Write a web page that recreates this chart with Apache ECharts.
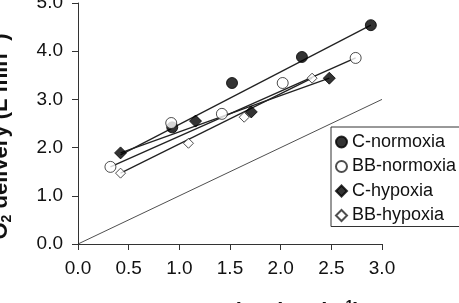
<!DOCTYPE html>
<html>
<head>
<meta charset="utf-8">
<script src="https://cdn.jsdelivr.net/npm/echarts@6/dist/echarts.min.js"></script>
<style>
  html, body { margin: 0; padding: 0; background: #fff; }
  #chart { width: 459px; height: 303px; }
</style>
</head>
<body>
<div id="chart"></div>
<script>
// values
let xTicks = [0, 0.5, 1, 1.5, 2, 2.5, 3]
let yTicks = [0, 1, 2, 3, 4, 5]

let cNormoxia = [[0.93, 2.42], [1.52, 3.34], [2.21, 3.88], [2.89, 4.54]]
let bbNormoxia = [[0.32, 1.60], [0.92, 2.51], [1.42, 2.70], [2.02, 3.34], [2.74, 3.86]]
let cHypoxia = [[0.42, 1.89], [1.16, 2.55], [1.71, 2.74], [2.48, 3.44]]
let bbHypoxia = [[0.42, 1.47], [1.09, 2.09], [1.64, 2.63], [2.31, 3.44]]

// trend lines (end points)
let cNormoxiaFit = [[0.42, 1.85], [2.89, 4.54]]
let bbNormoxiaFit = [[0.32, 1.60], [2.74, 3.86]]
let cHypoxiaFit = [[0.42, 1.89], [2.48, 3.44]]
let bbHypoxiaFit = [[0.42, 1.47], [2.31, 3.44]]
let identityLine = [[0, 0], [3, 3]]

let names = ['C-normoxia', 'BB-normoxia', 'C-hypoxia', 'BB-hypoxia']

let chart = echarts.init(document.getElementById('chart'))

let font = 'Liberation Sans, Arial, sans-serif'
let axisRich = {
  b: { fontSize: 22, fontWeight: 'bold', fontFamily: font, color: '#111', lineHeight: 26 },
  sub: { fontSize: 14, fontWeight: 'bold', fontFamily: font, color: '#111', verticalAlign: 'bottom', lineHeight: 14 },
  sup: { fontSize: 14, fontWeight: 'bold', fontFamily: font, color: '#111', verticalAlign: 'top', lineHeight: 14 }
}

function fitLine (data, width) {
  return {
    type: 'line',
    data: data,
    symbol: 'none',
    silent: true,
    z: 2,
    lineStyle: { color: '#222', width: width }
  }
}

function marker (name, data, symbol, filled, size) {
  return {
    name: name,
    type: 'scatter',
    data: data,
    symbol: symbol,
    symbolSize: size,
    z: 5,
    itemStyle: filled
      ? { color: '#000', borderColor: '#000', borderWidth: 1 }
      : { color: '#fff', borderColor: '#222', borderWidth: 1 }
  }
}

let option = {
  animation: false,
  grid: { left: 78, right: 77, top: 3, bottom: 59, containLabel: false, outerBoundsMode: 'none' },
  legend: {
    data: names,
    orient: 'vertical',
    left: 331,
    top: 127,
    padding: [5, 4, 1, 4],
    itemGap: 4.5,
    itemWidth: 11,
    itemHeight: 11,
    borderColor: '#333',
    borderWidth: 1,
    backgroundColor: '#fff',
    textStyle: { fontSize: 18, fontFamily: font, color: '#111', lineHeight: 20 }
  },
  xAxis: {
    type: 'value',
    min: xTicks[0],
    max: xTicks[xTicks.length - 1],
    interval: 0.5,
    splitLine: { show: false },
    axisLine: { lineStyle: { color: '#333', width: 1 } },
    axisTick: { length: 6, lineStyle: { color: '#333' } },
    axisLabel: {
      margin: 15,
      fontSize: 19,
      fontFamily: font,
      color: '#111',
      formatter: v => v.toFixed(1)
    },
    name: '{b|O}{sub|2}{b| consumption (L min}{sup|-1}{b|)}',
    nameLocation: 'middle',
    nameGap: 55,
    nameTextStyle: { rich: axisRich }
  },
  yAxis: {
    type: 'value',
    min: yTicks[0],
    max: yTicks[yTicks.length - 1],
    interval: 1,
    splitLine: { show: false },
    axisLine: { show: true, lineStyle: { color: '#333', width: 1 } },
    axisTick: { show: true, length: 6, lineStyle: { color: '#333' } },
    axisLabel: {
      margin: 15,
      fontSize: 19,
      fontFamily: font,
      color: '#111',
      formatter: v => v.toFixed(1)
    },
    name: '{b|O}{sub|2}{b| delivery (L min}{sup|-1}{b|)}',
    nameLocation: 'middle',
    nameGap: 64,
    nameTextStyle: { rich: axisRich, padding: [0, 26, 0, 0] }
  },
  series: [
    fitLine(identityLine, 0.8),
    fitLine(cNormoxiaFit, 1.3),
    fitLine(bbNormoxiaFit, 1.3),
    fitLine(cHypoxiaFit, 1.3),
    fitLine(bbHypoxiaFit, 1.3),
    marker(names[0], cNormoxia, 'circle', true, 11),
    marker(names[1], bbNormoxia, 'circle', false, 11),
    marker(names[2], cHypoxia, 'diamond', true, 12),
    marker(names[3], bbHypoxia, 'diamond', false, 10)
  ]
}

chart.setOption(option)
</script>
</body>
</html>
